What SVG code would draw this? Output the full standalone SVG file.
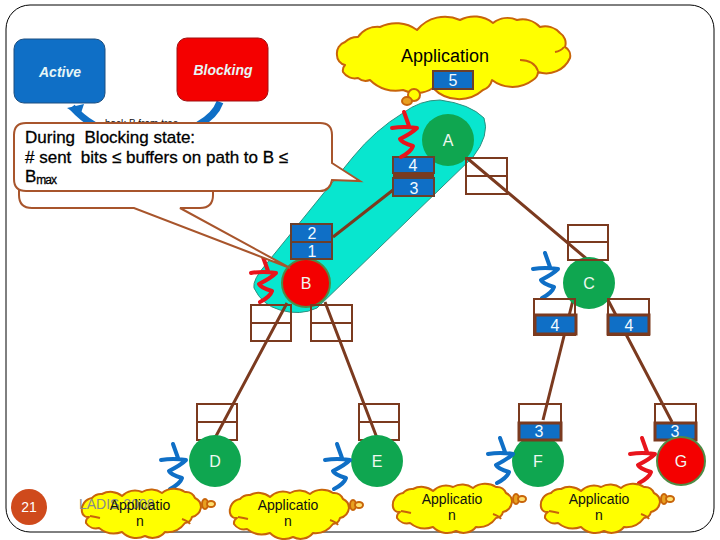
<svg xmlns="http://www.w3.org/2000/svg" width="720" height="540" viewBox="0 0 720 540">
<style>
text{font-family:"Liberation Sans",Arial,sans-serif}
.cloud{fill:#ffff00;stroke:#c8640a;stroke-width:2;stroke-linejoin:round}
.fold{fill:none;stroke:#c8640a;stroke-width:2}
.link{stroke:#7b3a1f;stroke-width:3;fill:none}
.cell{fill:none;stroke:#7b3a1f;stroke-width:2}
.full{fill:#0f6fc6;stroke:#6b3f2a;stroke-width:2}
.filled{fill:#0f6fc6;stroke:#7b3a1f;stroke-width:3}
.num{fill:#f2fbff;font-size:16px;text-anchor:middle}
.node{font-size:16px;text-anchor:middle;fill:#f0f8f0}
.green{fill:#0fa650}
.red{fill:#f40000;stroke:#4f8a45;stroke-width:2}
.sq{fill:none;stroke-width:4;stroke-linejoin:round;stroke-linecap:round}
.b{stroke:#0f6fc6}.r{stroke:#e8141c}
.app{font-size:14px;text-anchor:middle;fill:#111}
.callout{fill:#fff;stroke:#a8552c;stroke-width:2}
.state{font-size:14px;font-style:italic;font-weight:bold;text-anchor:middle;fill:#e6f6f6}
.say{font-size:17px;fill:#000;stroke:#000;stroke-width:.3}
</style>
<defs>
<path id="sq" d="M0,0L5,14M-12,16Q0,14 13,16Q8,21 -4,27Q-2,31 9,34Q7,40 -3,45"/>
<g id="small">
<path class="cloud" d="M10,8A12,12 0 0 1 20,4A18,18 0 0 1 40,6A18,18 0 0 1 60,2A18,18 0 0 1 80,3A20,20 0 0 1 103,2A10,10 0 0 1 113,8A10,10 0 0 1 119,17A12,12 0 0 1 110,27A8,8 0 0 1 103,33A22,22 0 0 1 83,42A16,16 0 0 1 63,46A20,20 0 0 1 40,42A24,24 0 0 1 17,38A12,12 0 0 1 4,33A6,6 0 0 1 7,27A6,6 0 0 1 0,22A12,12 0 0 1 10,8Z"/>
<path class="fold" d="M100,29Q106,31 108,34M8,26Q14,27 18,28"/>
<ellipse cx="123" cy="14" rx="3" ry="5" fill="#e8a020" stroke="#c8640a" stroke-width="2"/>
<ellipse cx="129" cy="14" rx="4" ry="3" fill="#ffe070" stroke="#c8640a" stroke-width="2"/>
</g>
</defs>

<rect x="6" y="5" width="708" height="527" rx="24" fill="#fff" stroke="#000" stroke-width="1"/>

<g id="team">
<path d="M267,263L353,157Q375,130 403,113Q420,100 440,100Q470,104 484,118Q490,135 473,157L317,308Q300,316 280,310Q262,305 254,288Q252,280 267,263Z" fill="#08e6cf" stroke="#2f8f7f" stroke-width="1"/>
</g>

<g id="state-arrows">
<path d="M72,107Q82,118 94,125" fill="none" stroke="#0f6fc6" stroke-width="7"/>
<path d="M67,108L84,104L80,116Z" fill="#0f6fc6"/>
<path d="M220,102Q215,116 198,125" fill="none" stroke="#0f6fc6" stroke-width="7"/>
<text x="105" y="127" font-size="10" fill="#111">back B from tree</text>
</g>
<g id="active"><rect x="14" y="39" width="91" height="64" rx="10" fill="#0f6fc6" stroke="#1d4f80"/><text class="state" x="60" y="77">Active</text></g>
<g id="blocking"><rect x="177" y="38" width="91" height="63" rx="10" fill="#f40000" stroke="#a01010"/><text class="state" x="223" y="75">Blocking</text></g>

<g id="connectors">
<path class="link" d="M467,158L588,260M393,190L333,237M287,303L215,438M325,302L377,438M573,300L543,420M608,300L672,422"/>
</g>

<g id="application">
<path class="cloud" d="M345,42A18,18 0 0 1 358,37A24,24 0 0 1 380,27A36,36 0 0 1 417,30A36,36 0 0 1 460,20A30,30 0 0 1 493,23A24,24 0 0 1 517,20A24,24 0 0 1 540,27A20,20 0 0 1 560,33A12,12 0 0 1 565,47A10,10 0 0 1 570,58A26,26 0 0 1 538,72A10,10 0 0 1 533,80A34,34 0 0 1 492,80A14,14 0 0 1 483,90A36,36 0 0 1 433,88A30,30 0 0 1 403,90A36,36 0 0 1 370,80A12,12 0 0 1 358,78A14,14 0 0 1 343,72A8,8 0 0 1 345,65A10,10 0 0 1 337,55A12,12 0 0 1 345,42Z"/>
<path class="fold" d="M520,60Q534,60 538,71M555,52Q561,51 564,47"/>
<ellipse cx="414" cy="95" rx="6" ry="6" fill="#ffff00" stroke="#c8640a" stroke-width="2"/>
<ellipse cx="407" cy="101" rx="5" ry="4" fill="#e8a020" stroke="#c8640a" stroke-width="2"/>
<text x="445" y="62" font-size="18" text-anchor="middle" fill="#000">Application</text>
<rect class="full" x="433" y="71" width="40" height="18"/>
<text class="num" x="453" y="86">5</text>
</g>

<g id="node-a">
<circle class="green" cx="448" cy="140" r="26"/><text class="node" x="448" y="146">A</text>
<rect class="full" x="393" y="157" width="41" height="16"/><text class="num" x="413" y="171">4</text>
<rect x="393" y="173" width="41" height="5" fill="#7b3a1f"/>
<rect class="full" x="393" y="178" width="41" height="18"/><text class="num" x="414" y="194">3</text>
<use href="#sq" class="sq r" transform="translate(404,112)"/>
<rect class="cell" x="466" y="158" width="41" height="36"/><path class="cell" d="M466,176H507"/>
</g>

<g id="node-b">
<circle class="red" cx="306" cy="283" r="24"/><text class="node" x="306" y="289">B</text>
<use href="#sq" class="sq r" transform="translate(263,257)"/>
<rect class="full" x="291" y="224" width="41" height="18"/><text class="num" x="312" y="239">2</text>
<rect class="full" x="291" y="242" width="41" height="17"/><text class="num" x="312" y="257">1</text>
<rect class="cell" x="251" y="305" width="40" height="36"/><path class="cell" d="M251,323H291"/>
<rect class="cell" x="311" y="305" width="41" height="36"/><path class="cell" d="M311,323H352"/>
</g>

<g id="node-c">
<circle class="green" cx="589" cy="283" r="26"/><text class="node" x="589" y="289">C</text>
<use href="#sq" class="sq b" transform="translate(545,253)"/>
<rect class="cell" x="568" y="225" width="40" height="35"/><path class="cell" d="M568,242H608"/>
<rect class="cell" x="534" y="299" width="41" height="36"/>
<rect class="filled" x="535" y="315" width="41" height="19"/><text class="num" x="555" y="331">4</text>
<rect class="cell" x="608" y="299" width="41" height="36"/>
<rect class="filled" x="608" y="315" width="41" height="19"/><text class="num" x="629" y="331">4</text>
</g>

<g id="node-d">
<rect class="cell" x="197" y="404" width="40" height="36"/><path class="cell" d="M197,422H237"/>
<circle class="green" cx="215" cy="461" r="26"/><text class="node" x="215" y="467">D</text>
<use href="#sq" class="sq b" transform="translate(173,444)"/>
</g>
<g id="node-e">
<rect class="cell" x="359" y="404" width="40" height="36"/><path class="cell" d="M359,422H399"/>
<circle class="green" cx="377" cy="461" r="26"/><text class="node" x="377" y="467">E</text>
<use href="#sq" class="sq b" transform="translate(337,444)"/>
</g>
<g id="node-f">
<circle class="green" cx="538" cy="461" r="26"/><text class="node" x="538" y="467">F</text>
<rect class="cell" x="519" y="404" width="42" height="36"/>
<rect class="filled" x="519" y="423" width="42" height="17"/><text class="num" x="539" y="437">3</text>
<use href="#sq" class="sq b" transform="translate(500,438)"/>
</g>
<g id="node-g">
<rect class="cell" x="655" y="404" width="41" height="36"/>
<rect class="filled" x="655" y="423" width="41" height="17"/>
<circle class="red" cx="681" cy="461" r="24"/><text class="node" x="681" y="467">G</text>
<text class="num" x="675" y="437">3</text>
<use href="#sq" class="sq r" transform="translate(642,438)"/>
</g>

<g id="callout-back">
<path class="callout" d="M32,165H213V195Q213,208 200,208H180L290,268L134,208H32Q19,208 19,195V178Q19,165 32,165Z"/>
</g>
<g id="callout-front">
<path class="callout" d="M26,123H320Q332,123 332,135V163L360,181L332,180Q330,191 320,191H26Q14,191 14,179V135Q14,123 26,123Z"/>
<text class="say" x="25" y="143" xml:space="preserve">During  Blocking state:</text>
<text class="say" x="25" y="163" xml:space="preserve"># sent  bits ≤ buffers on path to B ≤</text>
<text class="say" x="25" y="182">B<tspan font-size="12" dy="2" letter-spacing="-1">max</tspan></text>
</g>

<g id="app-d"><use href="#small" x="82" y="490"/></g>
<g id="app-e"><use href="#small" x="230" y="491"/><text class="app" x="288" y="510">Applicatio</text><text class="app" x="288" y="526">n</text></g>
<g id="app-f"><use href="#small" x="393" y="485"/><text class="app" x="452" y="504">Applicatio</text><text class="app" x="452" y="520">n</text></g>
<g id="app-g"><use href="#small" x="541" y="485"/><text class="app" x="599" y="504">Applicatio</text><text class="app" x="599" y="520">n</text></g>

<text x="79" y="509" font-size="14" fill="#8a8a8a">LADIS 2008</text>
<text class="app" x="140" y="510">Applicatio</text><text class="app" x="140" y="526">n</text>
<g id="page"><circle cx="29" cy="507" r="18" fill="#cf4a1c"/><text x="29" y="512" font-size="14" text-anchor="middle" fill="#fff">21</text></g>
</svg>
